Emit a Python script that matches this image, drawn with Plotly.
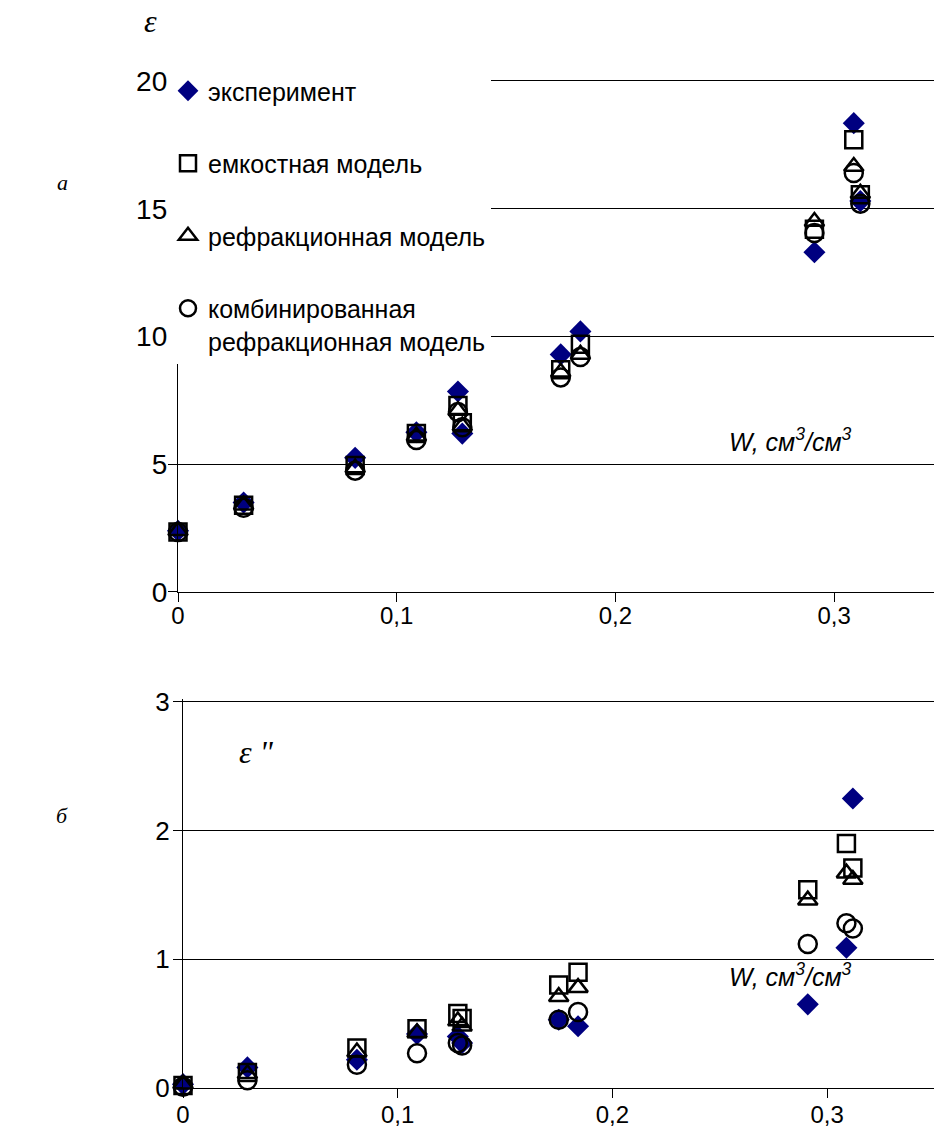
import plotly.graph_objects as go

# ---- data ----
w = [0.0, 0.03, 0.081, 0.109, 0.128, 0.130, 0.175, 0.184, 0.291, 0.309, 0.312]

eps_exp = [2.4, 3.5, 5.25, 6.25, 7.85, 6.2, 9.3, 10.2, 13.3, 18.35, 15.3]
eps_cap = [2.35, 3.4, 4.95, 6.2, 7.3, 6.62, 8.7, 9.7, 14.2, 17.7, 15.55]
eps_ref = [2.4, 3.4, 4.85, 6.1, 7.1, 6.5, 8.6, 9.3, 14.5, 16.65, 15.6]
eps_comb = [2.35, 3.3, 4.75, 5.95, 7.05, 6.45, 8.4, 9.2, 14.05, 16.4, 15.2]

eps2_exp = [0.03, 0.16, 0.22, 0.42, 0.40, 0.35, 0.53, 0.48, 0.65, 1.09, 2.25]
eps2_cap = [0.02, 0.12, 0.31, 0.46, 0.58, 0.54, 0.80, 0.90, 1.54, 1.90, 1.71]
eps2_ref = [0.03, 0.11, 0.28, 0.43, 0.52, 0.48, 0.71, 0.78, 1.46, 1.67, 1.62]
eps2_comb = [0.01, 0.06, 0.18, 0.27, 0.35, 0.33, 0.53, 0.59, 1.12, 1.28, 1.24]

names = ["эксперимент", "емкостная модель", "рефракционная модель",
         "комбинированная<br>рефракционная модель"]

x_tickvals = [0, 0.1, 0.2, 0.3]
x_ticktext = ["0", "0,1", "0,2", "0,3"]
y1_tickvals = [0, 5, 10, 15, 20]
y2_tickvals = [0, 1, 2, 3]

NAVY = "#000080"
styles = [
    dict(symbol="diamond", size=17, color=NAVY, line=dict(width=0)),
    dict(symbol="square-open", size=17, color="black", line=dict(width=2.5, color="black")),
    dict(symbol="triangle-up-open", size=17, color="black", line=dict(width=2.5, color="black")),
    dict(symbol="circle-open", size=18, color="black", line=dict(width=2.5, color="black")),
]

fig = go.Figure()
top_series = [eps_exp, eps_cap, eps_ref, eps_comb]
bot_series = [eps2_exp, eps2_cap, eps2_ref, eps2_comb]
for i, (ys, name) in enumerate(zip(top_series, names)):
    fig.add_trace(go.Scatter(x=w, y=ys, mode="markers", name=name, marker=styles[i],
                             legendgroup="g%d" % i, showlegend=True, cliponaxis=False,
                             xaxis="x", yaxis="y"))
for i, ys in enumerate(bot_series):
    fig.add_trace(go.Scatter(x=w, y=ys, mode="markers", name=names[i], marker=styles[i],
                             legendgroup="g%d" % i, showlegend=False, cliponaxis=False,
                             xaxis="x2", yaxis="y2"))

W, H = 934, 1133
def px(x): return x / W
def py(y): return 1 - y / H

axis_common = dict(showline=True, linecolor="black", linewidth=1.3, ticks="outside",
                   tickcolor="black", ticklen=9, tickwidth=1, zeroline=False,
                   mirror=False, automargin=False)

# top: 0 at y=592, 20 at y=81 ; extend range slightly so top gridline is drawn
k1 = (592 - 81) / 20.0
top1 = 20.15
# bottom: 0 at y=1088, 3 at y=702
k2 = (1088 - 702) / 3.0
top2 = 3.02

fig.update_layout(
    width=W, height=H,
    margin=dict(l=0, r=0, t=0, b=0, autoexpand=False),
    paper_bgcolor="white", plot_bgcolor="white",
    font=dict(family="Liberation Sans, Arial, sans-serif", color="black"),
    xaxis=dict(domain=[px(178), 1], range=[0, (W - 178) / 2187], anchor="y",
               tickvals=x_tickvals, ticktext=x_ticktext, showgrid=False,
               tickfont=dict(size=24), ticklabelstandoff=-7, **axis_common),
    yaxis=dict(domain=[py(592), py(592 - top1 * k1)], range=[0, top1], anchor="x",
               tickvals=y1_tickvals, showgrid=True, gridcolor="black", gridwidth=1,
               tickfont=dict(size=28), ticklabelstandoff=-5, **axis_common),
    xaxis2=dict(domain=[px(183), 1], range=[0, (W - 183) / 2147], anchor="y2",
                tickvals=x_tickvals, ticktext=x_ticktext, showgrid=False,
                tickfont=dict(size=24), ticklabelstandoff=-4, **axis_common),
    yaxis2=dict(domain=[py(1088), py(1088 - top2 * k2)], range=[0, top2], anchor="x2",
                tickvals=y2_tickvals, showgrid=True, gridcolor="black", gridwidth=1,
                tickfont=dict(size=26), ticklabelstandoff=-2, **axis_common),
    legend=dict(x=px(168), y=py(68), xanchor="left", yanchor="top",
                bgcolor="white", borderwidth=0, font=dict(size=25),
                tracegroupgap=37, valign="top", itemclick=False),
    showlegend=True,
)

serif = "Liberation Serif, Times New Roman, serif"
ann = [
    dict(x=px(150), y=py(21), text="<i>ε</i>", font=dict(family=serif, size=32)),
    dict(x=px(62), y=py(183), text="<i>а</i>", font=dict(family=serif, size=22)),
    dict(x=px(62), y=py(815), text="<i>б</i>", font=dict(family=serif, size=22)),
    dict(x=px(256), y=py(752), text="<i>ε \"</i>", font=dict(family=serif, size=32)),
    dict(x=px(790), y=py(440), text="<i>W, см<sup>3</sup>/см<sup>3</sup></i>", font=dict(size=25)),
    dict(x=px(790), y=py(975), text="<i>W, см<sup>3</sup>/см<sup>3</sup></i>", font=dict(size=25)),
]
for a in ann:
    a.update(xref="paper", yref="paper", showarrow=False, xanchor="center", yanchor="middle")
fig.update_layout(annotations=ann)

fig.write_html("out.html")
